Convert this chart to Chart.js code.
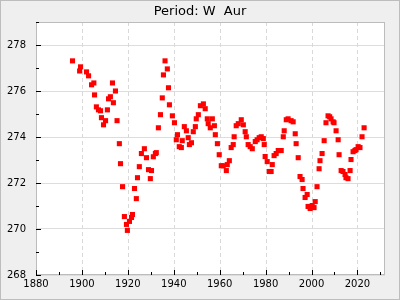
<!DOCTYPE html>
<html>
<head>
<meta charset="utf-8">
<script src="https://cdn.jsdelivr.net/npm/chart.js@4/dist/chart.umd.min.js"></script>
<style>
html,body{margin:0;padding:0;background:#efefef;}
#wrap{width:400px;height:300px;}
</style>
</head>
<body>
<div id="wrap"><canvas id="c" width="400" height="300"></canvas></div>
<script>
const titleText = "Period: W  Aur";
const years = [1895.9,1899.0,1899.4,1902.0,1902.9,1904.2,1905.2,1905.5,1906.3,1907.2,1908.1,1908.5,1909.4,1910.3,1911.1,1911.6,1912.4,1913.3,1913.7,1914.6,1915.3,1916.3,1916.8,1917.7,1918.5,1919.4,1919.8,1920.7,1921.6,1922.0,1922.9,1923.7,1924.2,1925.0,1925.9,1927.2,1928.1,1929.0,1929.8,1930.3,1931.1,1932.0,1932.4,1933.3,1934.2,1935.0,1935.5,1936.2,1937.2,1937.7,1938.1,1939.4,1940.3,1941.1,1941.6,1942.4,1943.3,1943.7,1944.6,1945.5,1946.3,1946.8,1947.7,1948.5,1949.4,1949.8,1950.7,1951.6,1952.9,1953.7,1954.6,1955.0,1955.9,1956.8,1957.7,1958.1,1959.0,1959.8,1960.7,1961.5,1962.9,1963.3,1964.2,1965.0,1965.9,1966.3,1967.2,1968.1,1969.4,1970.3,1971.1,1971.6,1972.4,1973.3,1974.2,1975.5,1976.3,1977.2,1978.1,1979.0,1979.4,1979.8,1980.7,1981.6,1982.4,1982.9,1983.7,1984.6,1985.5,1986.8,1987.7,1988.1,1989.0,1989.8,1991.1,1992.0,1992.9,1993.3,1994.2,1995.0,1995.9,1996.3,1997.2,1998.1,1998.5,1999.4,2000.3,2001.1,2001.6,2002.4,2003.3,2003.7,2004.6,2005.5,2006.3,2007.2,2007.9,2008.5,2009.4,2009.8,2010.7,2011.6,2012.0,2012.9,2013.7,2014.6,2015.0,2015.9,2016.8,2017.2,2018.1,2018.9,2019.4,2020.3,2021.1,2022.0,2022.9];
const periods = [277.31,276.87,277.05,276.83,276.66,276.27,276.35,275.83,275.31,275.18,275.14,274.84,274.53,274.71,275.18,275.66,275.75,276.35,275.49,276.00,274.71,273.71,272.84,271.84,270.54,270.20,269.94,270.33,270.50,270.63,271.76,271.32,272.23,272.71,273.28,273.49,273.10,272.58,272.19,272.54,273.14,273.28,273.32,274.40,274.97,275.70,276.70,277.31,276.96,276.14,275.40,274.92,274.62,273.88,274.10,273.58,273.54,273.84,274.45,274.27,273.97,273.67,273.75,274.23,274.45,274.79,274.97,275.36,275.44,275.23,274.79,274.58,274.40,274.79,274.49,274.10,273.71,273.23,272.75,272.75,272.54,272.80,272.97,273.54,273.67,274.01,274.49,274.58,274.75,274.53,274.23,274.01,273.67,273.58,273.49,273.80,273.88,273.97,274.01,273.93,273.67,273.15,272.93,272.50,272.50,272.80,273.19,273.28,273.41,273.41,274.01,274.27,274.75,274.79,274.71,274.66,274.14,273.71,273.10,272.28,272.15,271.76,271.37,271.50,270.98,270.89,271.02,270.93,271.19,271.84,272.62,272.97,273.28,273.84,274.62,274.92,274.88,274.79,274.66,274.62,274.27,273.88,273.23,272.54,272.50,272.37,272.23,272.19,272.54,273.02,273.36,273.41,273.45,273.58,273.54,274.01,274.40];
const xTickLabels = [1880,1900,1920,1940,1960,1980,2000,2020];
const yTickLabels = [268,270,272,274,276,278];
const xRange = [1880, 2032];
const yRange = [268, 279];

const pts = years.map((x, i) => ({x: x, y: periods[i]}));

const framePlugin = {
  id: 'frame',
  beforeDraw(chart) {
    const ctx = chart.ctx;
    ctx.save();
    ctx.fillStyle = '#efefef';
    ctx.fillRect(0, 0, chart.width, chart.height);
    ctx.strokeStyle = '#bdbdbd';
    ctx.lineWidth = 1;
    ctx.strokeRect(0.5, 0.5, chart.width - 1, chart.height - 1);
    const a = chart.chartArea;
    ctx.fillStyle = '#ffffff';
    ctx.fillRect(a.left, a.top, a.right - a.left, a.bottom - a.top);
    ctx.fillStyle = '#000000';
    ctx.font = '13px "DejaVu Sans"';
    ctx.textAlign = 'center';
    ctx.textBaseline = 'alphabetic';
    ctx.fillText(titleText, chart.width / 2, 15);
    ctx.restore();
  },
  beforeDatasetsDraw(chart) {
    const ctx = chart.ctx;
    const a = chart.chartArea;
    const xs = chart.scales.x, ys = chart.scales.y;
    ctx.save();
    // dashed vertical grid lines
    ctx.strokeStyle = '#d9d9d9';
    ctx.lineWidth = 1;
    ctx.setLineDash([4, 3]);
    ctx.beginPath();
    xTickLabels.forEach(v => {
      const px = Math.round(xs.getPixelForValue(v)) + 0.5;
      ctx.moveTo(px, a.top);
      ctx.lineTo(px, a.bottom);
    });
    ctx.stroke();
    ctx.setLineDash([]);
    // frame
    ctx.strokeStyle = '#bcbcbc';
    ctx.strokeRect(Math.round(a.left) + 0.5, Math.round(a.top) + 0.5, Math.round(a.right - a.left) - 1, Math.round(a.bottom - a.top) - 1);
    // tick marks
    ctx.strokeStyle = '#000000';
    ctx.beginPath();
    for (let v = xRange[0]; v <= xRange[1]; v += 10) {
      const px = Math.round(xs.getPixelForValue(v)) + 0.5;
      const len = (v % 20 === 0) ? 5 : 3;
      ctx.moveTo(px, a.bottom);
      ctx.lineTo(px, a.bottom - len);
    }
    for (let v = yRange[0]; v <= yRange[1]; v += 1) {
      const py = Math.round(ys.getPixelForValue(v)) + 0.5;
      const len = (v % 2 === 0) ? 5 : 3;
      ctx.moveTo(a.left, py);
      ctx.lineTo(a.left + len, py);
    }
    ctx.stroke();
    ctx.restore();
  }
};

new Chart(document.getElementById('c'), {
  type: 'scatter',
  data: {
    datasets: [{
      data: pts,
      backgroundColor: '#ff0000',
      borderColor: '#ff0000',
      borderWidth: 0,
      pointStyle: 'rect',
      pointRadius: 3.6,
      pointHoverRadius: 3.6
    }]
  },
  options: {
    responsive: false,
    animation: false,
    events: [],
    layout: {padding: {left: 0, right: 15, top: 22, bottom: 0}},
    plugins: {legend: {display: false}, tooltip: {enabled: false}, title: {display: false}},
    scales: {
      x: {
        type: 'linear',
        min: xRange[0], max: xRange[1],
        afterBuildTicks: s => { s.ticks = xTickLabels.map(v => ({value: v})); },
        afterFit: s => { s.height = 25; },
        grid: {display: false, drawTicks: false},
        border: {display: false},
        ticks: {color: '#000000', font: {family: 'DejaVu Sans', size: 10}, padding: 3, maxRotation: 0, autoSkip: false, callback: v => String(v)}
      },
      y: {
        type: 'linear',
        min: yRange[0], max: yRange[1],
        afterBuildTicks: s => { s.ticks = yTickLabels.map(v => ({value: v})); },
        afterFit: s => { s.width = 36; },
        grid: {color: '#dddddd', lineWidth: 1, drawTicks: false},
        border: {display: false},
        ticks: {color: '#000000', font: {family: 'DejaVu Sans', size: 10}, padding: 10, callback: v => String(v)}
      }
    }
  },
  plugins: [framePlugin]
});
</script>
</body>
</html>
